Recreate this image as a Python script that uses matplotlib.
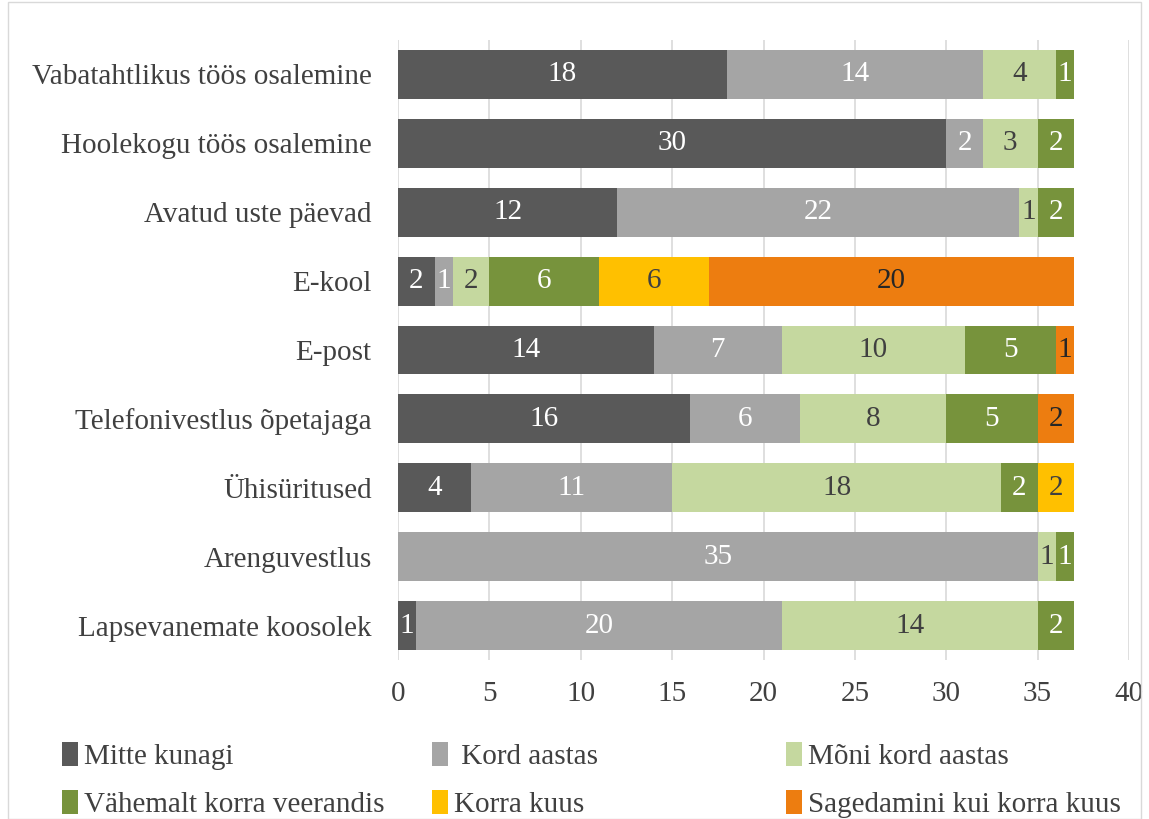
import matplotlib
matplotlib.use("Agg")
import matplotlib.pyplot as plt
from matplotlib.patches import Rectangle, Patch

categories = ["Vabatahtlikus töös osalemine", "Hoolekogu töös osalemine", "Avatud uste päevad",
              "E-kool", "E-post", "Telefonivestlus õpetajaga", "Ühisüritused",
              "Arenguvestlus", "Lapsevanemate koosolek"]
series_names = ["Mitte kunagi", " Kord aastas", "Mõni kord aastas",
                "Vähemalt korra veerandis", "Korra kuus", "Sagedamini kui korra kuus"]
mitte_kunagi = [18, 30, 12, 2, 14, 16, 4, 0, 1]
kord_aastas = [14, 2, 22, 1, 7, 6, 11, 35, 20]
moni_kord = [4, 3, 1, 2, 10, 8, 18, 1, 14]
veerandis = [1, 2, 2, 6, 5, 5, 2, 1, 2]
korra_kuus = [0, 0, 0, 6, 0, 0, 2, 0, 0]
sagedamini = [0, 0, 0, 20, 1, 2, 0, 0, 0]
xticks = [0, 5, 10, 15, 20, 25, 30, 35, 40]

series = [mitte_kunagi, kord_aastas, moni_kord, veerandis, korra_kuus, sagedamini]
colors = ["#595959", "#a5a5a5", "#c5d89f", "#77933c", "#ffc000", "#ed7d10"]
label_colors = ["white", "white", "#404040", "white", "#404040", "#262626"]

plt.rcParams['font.family'] = ['Liberation Serif', 'DejaVu Serif']
FS = 21

fig = plt.figure(figsize=(11.49, 8.19), dpi=100)
ax = fig.add_axes([398/1149, 1 - 660/819, (1129 - 398)/1149, 620/819])

n = len(categories)
ypos = list(range(n))[::-1]
left = [0] * n
for vals, col, lc in zip(series, colors, label_colors):
    ax.barh(ypos, vals, left=left, height=0.71, color=col, zorder=3)
    for y, l, v in zip(ypos, left, vals):
        if v > 0:
            ax.text(l + v / 2, y, str(v), ha="center", va="center", color=lc,
                    fontsize=FS, zorder=4)
    left = [a + b for a, b in zip(left, vals)]

ax.set_xlim(0, 40)
ax.set_ylim(-0.5, n - 0.5)
ax.set_xticks(xticks)
ax.set_xticklabels([str(t) for t in xticks], fontsize=FS, color="#404040")
ax.set_yticks(ypos)
ax.set_yticklabels(categories, fontsize=FS, color="#404040")
ax.tick_params(axis="both", length=0)
ax.tick_params(axis="x", pad=15)
ax.tick_params(axis="y", pad=19)
ax.grid(axis="x", color="#d9d9d9", linewidth=1.2, zorder=0)
for s in ax.spines.values():
    s.set_visible(False)

# legend: three columns placed at fixed positions, filled row-wise
col_x = [62, 432, 786]
for c in range(3):
    idx = [c, c + 3]
    hs = [Patch(facecolor=colors[i], edgecolor="none") for i in idx]
    labs = [series_names[i] for i in idx]
    fig.legend(hs, labs, loc="upper left", bbox_to_anchor=(col_x[c]/1149, 1 - 742/819),
               ncol=1, frameon=False, fontsize=FS, handlelength=0.55, handleheight=0.9,
               handletextpad=0.2, labelspacing=0.68, labelcolor="#404040",
               borderaxespad=0, borderpad=0)

fig.patches.append(Rectangle((8/1149, 0), 1133/1149, 1 - 2/819, transform=fig.transFigure,
                             fill=False, edgecolor="#d9d9d9", linewidth=1))

fig.savefig("out.png", dpi=100)
